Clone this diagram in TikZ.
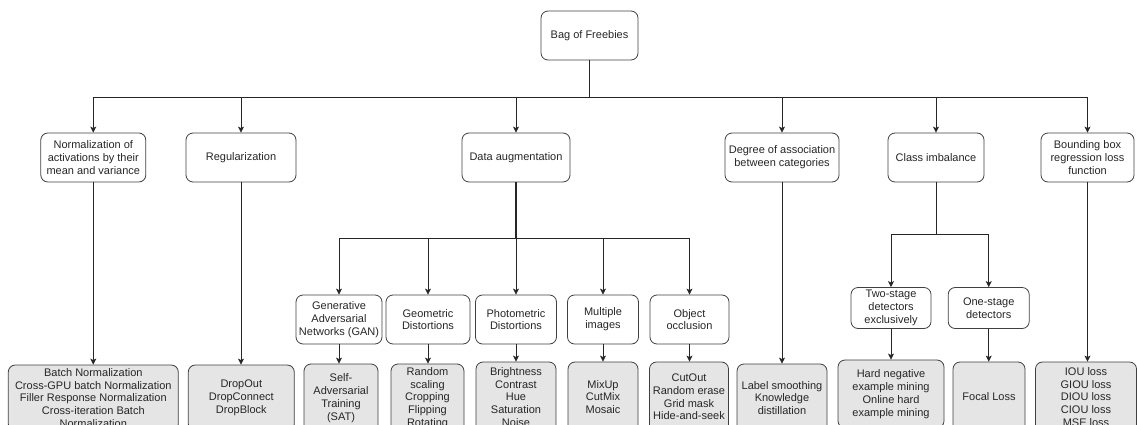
\documentclass[tikz,border=0pt]{standalone}
\usepackage{fontspec}
\setmainfont{Liberation Sans}
\usetikzlibrary{arrows.meta}

\tikzset{
  box/.style={draw=black!75, line width=0.8pt, rounded corners=7pt, align=center,
    inner sep=1pt, text=black!85, font=\fontsize{11}{12.8}\selectfont},
  leaf/.style={box, fill=black!10},
  link/.style={draw=black!85, line width=0.8pt},
  arr/.style={link, -{Stealth[length=6pt,width=6pt,inset=1.5pt]}}
}

\begin{document}
\begin{tikzpicture}[x=1pt, y=-1pt]
\useasboundingbox (0,0) rectangle (1137,425);
\clip (0,0) rectangle (1137,425);

% root
\node[box, minimum width=97pt, minimum height=49pt] (root) at (589.5,35.5) {Bag of Freebies};

% first level
\node[box, minimum width=105pt, minimum height=49pt] (norm) at (93.3,157.5) {Normalization of\\activations by their\\mean and variance};
\node[box, minimum width=110pt, minimum height=49pt] (reg) at (241,157.5) {Regularization};
\node[box, minimum width=108pt, minimum height=49pt] (aug) at (516,157.5) {Data augmentation};
\node[box, minimum width=114pt, minimum height=49pt] (deg) at (782,157.5) {Degree of association\\between categories};
\node[box, minimum width=96pt, minimum height=49pt] (cls) at (936,157.5) {Class imbalance};
\node[box, minimum width=93pt, minimum height=49pt] (bbr) at (1087.5,157.5) {Bounding box\\regression loss\\function};

% data augmentation sub-groups
\node[box, minimum width=86pt, minimum height=49pt] (gan) at (339,319.5) {Generative\\Adversarial\\Networks (GAN)};
\node[box, minimum width=84pt, minimum height=49pt] (geo) at (428,319.5) {Geometric\\Distortions};
\node[box, minimum width=81pt, minimum height=49pt] (pho) at (516,319.5) {Photometric\\Distortions};
\node[box, minimum width=71pt, minimum height=49pt] (mul) at (603,319.5) {Multiple\\images};
\node[box, minimum width=79pt, minimum height=49pt] (occ) at (689.5,319.5) {Object\\occlusion};

% class imbalance sub-groups
\node[box, minimum width=80pt, minimum height=41pt] (two) at (891,308) {Two-stage\\detectors\\exclusively};
\node[box, minimum width=81pt, minimum height=41pt] (one) at (988.7,308) {One-stage\\detectors};

% leaves
\node[leaf, minimum width=170pt, minimum height=66pt] (bn) at (93.3,398) {Batch Normalization\\Cross-GPU batch Normalization\\Filler Response Normalization\\Cross-iteration Batch\\Normalization};
\node[leaf, minimum width=106pt, minimum height=66pt] (drop) at (241.3,398) {DropOut\\DropConnect\\DropBlock};
\node[leaf, minimum width=74pt, minimum height=68pt] (sat) at (341,398) {Self-\\Adversarial\\Training\\(SAT)};
\node[leaf, minimum width=73pt, minimum height=68pt] (geol) at (427.5,398) {Random\\scaling\\Cropping\\Flipping\\Rotating};
\node[leaf, minimum width=80pt, minimum height=70pt] (phol) at (516,397) {Brightness\\Contrast\\Hue\\Saturation\\Noise};
\node[leaf, minimum width=70pt, minimum height=70pt] (mull) at (603,397) {MixUp\\CutMix\\Mosaic};
\node[leaf, minimum width=79pt, minimum height=70pt] (occl) at (689,397) {CutOut\\Random erase\\Grid mask\\Hide-and-seek};
\node[leaf, minimum width=90pt, minimum height=68pt] (lab) at (782,398) {Label smoothing\\Knowledge\\distillation};
\node[leaf, minimum width=106pt, minimum height=68pt] (hard) at (891,394) {Hard negative\\example mining\\Online hard\\example mining};
\node[leaf, minimum width=72pt, minimum height=70pt] (foc) at (989,397) {Focal Loss};
\node[leaf, minimum width=101pt, minimum height=70pt] (iou) at (1086,397) {IOU loss\\GIOU loss\\DIOU loss\\CIOU loss\\MSE loss};

% bus levels
\coordinate (bus) at (0,97);
\coordinate (dbus) at (0,238.7);
\coordinate (cbus) at (0,234.3);

% root to first level
\draw[link, line width=1.2pt] (root.south) -- (root.south |- bus);
\draw[link] (bus -| norm.north) -- (bus -| bbr.north);
\foreach \n in {norm,reg,aug,deg,cls,bbr}
  \draw[arr] (bus -| \n.north) -- (\n.north);

% straight branches
\draw[arr] (norm.south) -- (norm.south |- bn.north);
\draw[arr] (reg.south) -- (reg.south |- drop.north);
\draw[arr] (deg.south) -- (deg.south |- lab.north);
\draw[arr] (bbr.south) -- (bbr.south |- iou.north);

% data augmentation branch
\draw[link, line width=1.1pt] (aug.south) -- (aug.south |- dbus);
\draw[link] (dbus -| gan.north) -- (dbus -| occ.north);
\foreach \n in {gan,geo,pho,mul,occ}
  \draw[arr] (dbus -| \n.north) -- (\n.north);
\draw[arr] (gan.south) -- (gan.south |- sat.north);
\draw[arr] (geo.south) -- (geo.south |- geol.north);
\draw[arr] (pho.south) -- (pho.south |- phol.north);
\draw[arr] (mul.south) -- (mul.south |- mull.north);
\draw[arr] (occ.south) -- (occ.south |- occl.north);

% class imbalance branch
\draw[link] (cls.south) -- (cls.south |- cbus);
\draw[link] (cbus -| two.north) -- (cbus -| one.north);
\foreach \n in {two,one}
  \draw[arr] (cbus -| \n.north) -- (\n.north);
\draw[arr] (two.south) -- (two.south |- hard.north);
\draw[arr] (one.south) -- (one.south |- foc.north);
\end{tikzpicture}
\end{document}
